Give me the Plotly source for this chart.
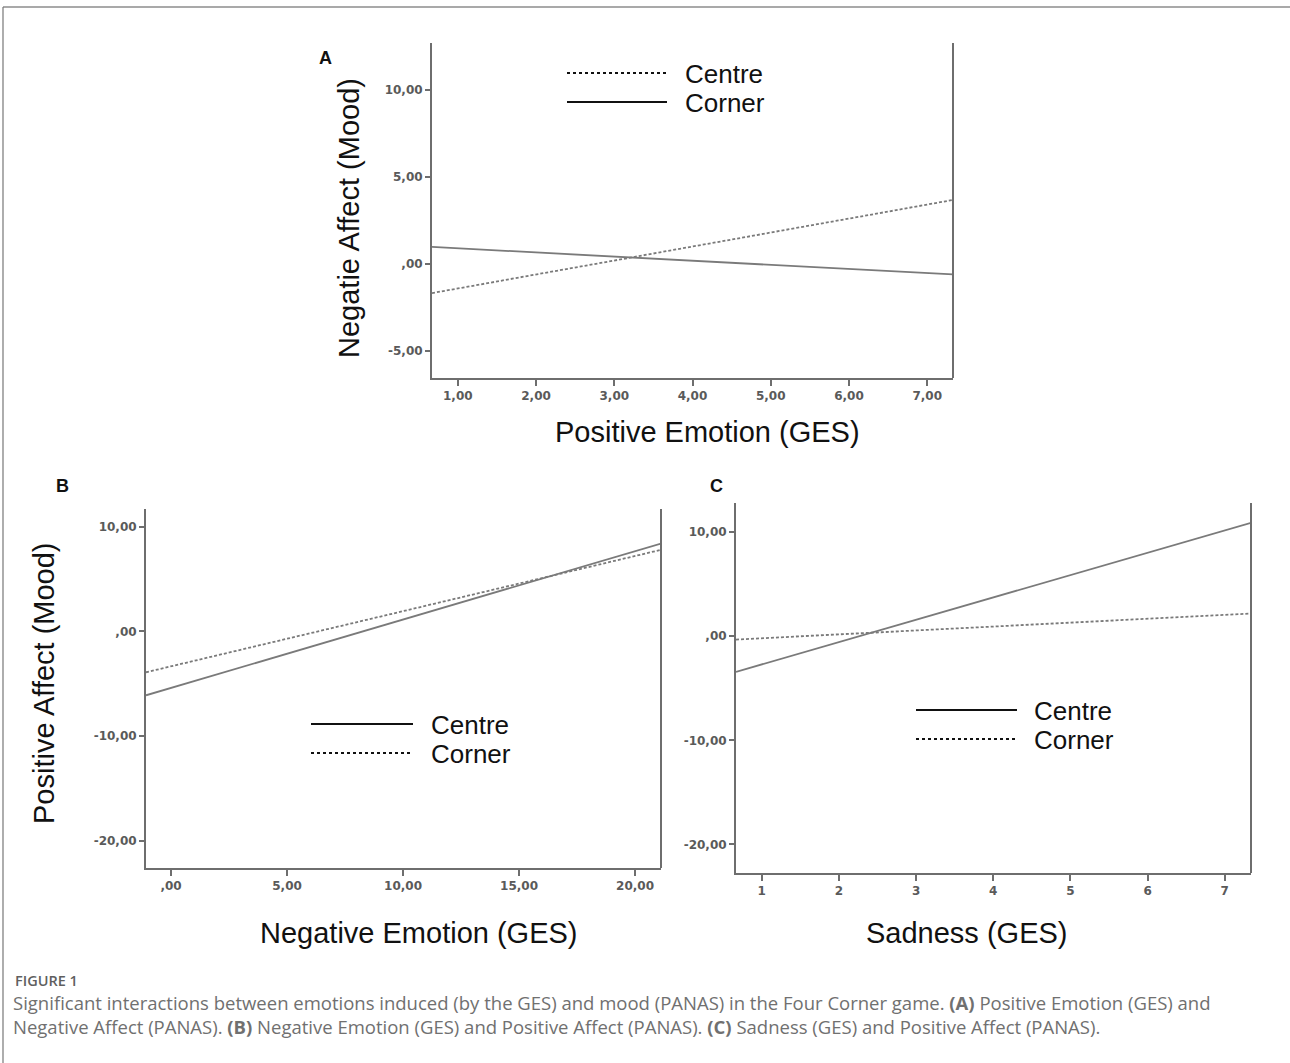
import plotly.graph_objects as go

# ---------------- data ----------------
# Panel A: Positive Emotion (GES) vs Negative Affect (Mood)
a_x = [0.67, 7.33]
a_centre = [-1.67, 3.68]
a_corner = [0.98, -0.60]
a_xticks = [1, 2, 3, 4, 5, 6, 7]
a_xticktext = ["1,00", "2,00", "3,00", "4,00", "5,00", "6,00", "7,00"]
a_yticks = [-5, 0, 5, 10]
a_yticktext = ["-5,00", ",00", "5,00", "10,00"]

# Panel B: Negative Emotion (GES) vs Positive Affect (Mood)
b_x = [-1.08, 21.12]
b_centre = [-6.1, 8.4]
b_corner = [-3.9, 7.8]
b_xticks = [0, 5, 10, 15, 20]
b_xticktext = [",00", "5,00", "10,00", "15,00", "20,00"]
b_yticks = [-20, -10, 0, 10]
b_yticktext = ["-20,00", "-10,00", ",00", "10,00"]

# Panel C: Sadness (GES) vs Positive Affect (Mood)
c_x = [0.667, 7.34]
c_centre = [-3.43, 10.9]
c_corner = [-0.32, 2.18]
c_xticks = [1, 2, 3, 4, 5, 6, 7]
c_xticktext = ["1", "2", "3", "4", "5", "6", "7"]
c_yticks = [-20, -10, 0, 10]
c_yticktext = ["-20,00", "-10,00", ",00", "10,00"]

W, H = 1290, 1063
def px(x):
    return x / W
def py(y):
    return 1 - y / H

LINE_COL = "#7a7a7a"
AX_COL = "#6e6e6e"
TICK_FONT = dict(family="DejaVu Sans, sans-serif", size=12, color="#5a5a5a", weight="bold")
TITLE_FONT = dict(family="Liberation Sans, Arial, sans-serif", size=29, color="#111111")
LEG_FONT = dict(family="Liberation Sans, Arial, sans-serif", size=26, color="#111111")
DOT = "3px,2px"

fig = go.Figure()

fig.add_trace(go.Scatter(x=a_x, y=a_centre, mode="lines", name="Centre",
                         line=dict(color=LINE_COL, width=1.8, dash=DOT), xaxis="x", yaxis="y"))
fig.add_trace(go.Scatter(x=a_x, y=a_corner, mode="lines", name="Corner",
                         line=dict(color=LINE_COL, width=1.8), xaxis="x", yaxis="y"))
fig.add_trace(go.Scatter(x=b_x, y=b_centre, mode="lines", name="Centre",
                         line=dict(color=LINE_COL, width=1.8), xaxis="x2", yaxis="y2"))
fig.add_trace(go.Scatter(x=b_x, y=b_corner, mode="lines", name="Corner",
                         line=dict(color=LINE_COL, width=1.8, dash=DOT), xaxis="x2", yaxis="y2"))
fig.add_trace(go.Scatter(x=c_x, y=c_centre, mode="lines", name="Centre",
                         line=dict(color=LINE_COL, width=1.8), xaxis="x3", yaxis="y3"))
fig.add_trace(go.Scatter(x=c_x, y=c_corner, mode="lines", name="Corner",
                         line=dict(color=LINE_COL, width=1.8, dash=DOT), xaxis="x3", yaxis="y3"))

def xaxis(domain, rng, tv, tt, anchor):
    return dict(domain=domain, range=rng, tickvals=tv, ticktext=tt, anchor=anchor,
                showline=True, linecolor=AX_COL, linewidth=2, ticks="outside", ticklen=6,
                tickwidth=2, tickcolor=AX_COL, tickfont=TICK_FONT, showgrid=False, zeroline=False,
                fixedrange=True)

def yaxis(domain, rng, tv, tt, anchor):
    return dict(domain=domain, range=rng, tickvals=tv, ticktext=tt, anchor=anchor,
                showline=True, linecolor=AX_COL, linewidth=2, ticks="outside", ticklen=5,
                tickwidth=2, tickcolor=AX_COL, tickfont=TICK_FONT, showgrid=False, zeroline=False,
                fixedrange=True)

fig.update_layout(
    width=W, height=H,
    margin=dict(l=0, r=0, t=0, b=0),
    paper_bgcolor="white", plot_bgcolor="white",
    showlegend=False,
    xaxis=xaxis([px(432), px(953)], [a_x[0], a_x[1]], a_xticks, a_xticktext, "y"),
    yaxis=yaxis([py(378), py(43)], [-6.55, 12.7], a_yticks, a_yticktext, "x"),
    xaxis2=xaxis([px(146), px(661)], [b_x[0], b_x[1]], b_xticks, b_xticktext, "y2"),
    yaxis2=yaxis([py(868), py(509)], [-22.6, 11.7], b_yticks, b_yticktext, "x2"),
    xaxis3=xaxis([px(736), px(1251)], [c_x[0], c_x[1]], c_xticks, c_xticktext, "y3"),
    yaxis3=yaxis([py(873), py(503)], [-22.75, 12.8], c_yticks, c_yticktext, "x3"),
)

shapes = []
for xa, ya in [("x", "y"), ("x2", "y2"), ("x3", "y3")]:
    shapes.append(dict(type="line", xref=f"{xa} domain", yref=f"{ya} domain",
                       x0=1, x1=1, y0=0, y1=1, line=dict(color=AX_COL, width=2)))

# figure frame (top and left)
shapes.append(dict(type="line", xref="paper", yref="paper", x0=px(3), x1=1, y0=py(7), y1=py(7),
                   line=dict(color="#555555", width=1.2)))
shapes.append(dict(type="line", xref="paper", yref="paper", x0=px(3), x1=px(3), y0=py(7), y1=0,
                   line=dict(color="#777777", width=1.2)))

annotations = []

def legend(x0, x1, ytop, ybot, xtext, top_dash, bot_dash, top_label, bot_label):
    for yy, dash, lab in [(ytop, top_dash, top_label), (ybot, bot_dash, bot_label)]:
        shapes.append(dict(type="line", xref="paper", yref="paper", x0=px(x0), x1=px(x1),
                           y0=py(yy), y1=py(yy),
                           line=dict(color="#111111", width=2, dash=dash)))
        annotations.append(dict(text=lab, xref="paper", yref="paper", x=px(xtext), y=py(yy + 1),
                                xanchor="left", yanchor="middle", showarrow=False, borderpad=0,
                                font=LEG_FONT))

legend(567, 667, 73, 102, 684, "dot", "solid", "Centre", "Corner")
legend(311, 413, 724, 753, 430, "solid", "dot", "Centre", "Corner")
legend(916, 1017, 710, 739, 1033, "solid", "dot", "Centre", "Corner")

def ann(text, x, y, font, angle=0, xanchor="center", yanchor="middle"):
    annotations.append(dict(text=text, xref="paper", yref="paper", x=px(x), y=py(y),
                            xanchor=xanchor, yanchor=yanchor, showarrow=False, textangle=angle,
                            borderpad=0, font=font))

ann("Positive Emotion (GES)", 707, 432, TITLE_FONT)
ann("Negatie Affect (Mood)", 349, 218, TITLE_FONT, angle=-90)
ann("Negative Emotion (GES)", 419, 933, TITLE_FONT)
ann("Positive Affect (Mood)", 44, 683, TITLE_FONT, angle=-90)
ann("Sadness (GES)", 966, 933, TITLE_FONT)

LET = dict(family="Liberation Sans, Arial, sans-serif", size=18, color="#111111")
ann("<b>A</b>", 325, 58, LET)
ann("<b>B</b>", 62, 486, LET)
ann("<b>C</b>", 716, 486, LET)

CAP = dict(family="Open Sans, sans-serif", size=18.5, color="#707070")
ann("FIGURE 1", 14, 980, dict(family="Open Sans, sans-serif", size=14.5, color="#5f5f5f", weight=600),
    xanchor="left")
ann("Significant interactions between emotions induced (by the GES) and mood (PANAS) in the Four Corner game. "
    "<b>(A)</b> Positive Emotion (GES) and", 12, 1002, CAP, xanchor="left")
ann("Negative Affect (PANAS). <b>(B)</b> Negative Emotion (GES) and Positive Affect (PANAS). "
    "<b>(C)</b> Sadness (GES) and Positive Affect (PANAS).", 12, 1026, CAP, xanchor="left")

fig.update_layout(shapes=shapes, annotations=annotations)
fig.write_html("out.html",
               config={"displayModeBar": False},
               post_script="document.body.style.margin='0';document.body.style.padding='0';"
                           "document.body.style.overflow='hidden';")
